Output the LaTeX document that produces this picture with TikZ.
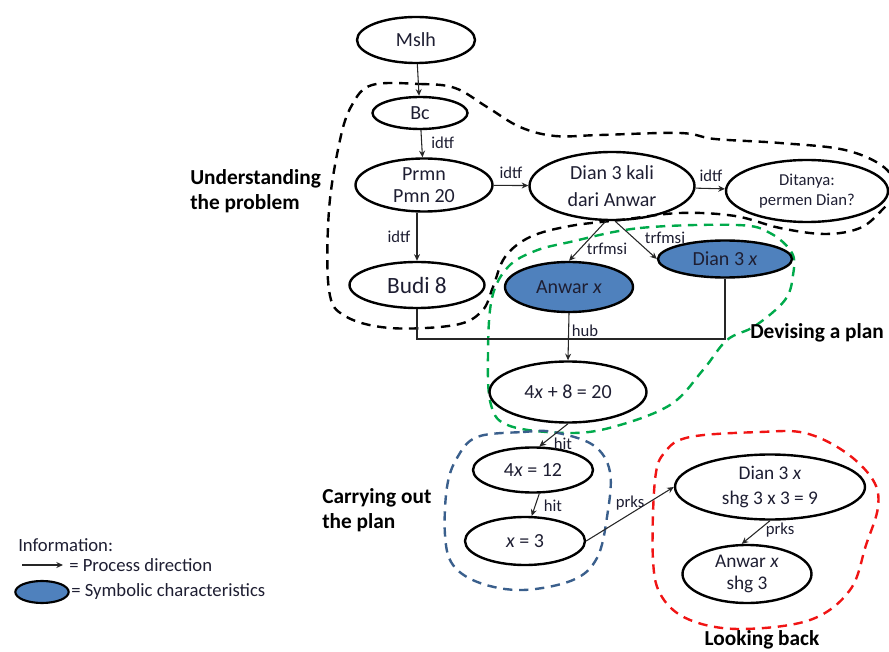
\documentclass[tikz,border=0pt]{standalone}
\usepackage{fontspec}
\setmainfont{Carlito}
\usetikzlibrary{shapes.geometric,arrows.meta}
\definecolor{nodeblue}{RGB}{79,129,189}
\definecolor{grn}{RGB}{0,170,75}
\definecolor{blu}{RGB}{58,95,140}
\definecolor{rd}{RGB}{240,20,20}
\definecolor{txt}{RGB}{30,30,50}
\begin{document}
\begin{tikzpicture}[x=0.75pt,y=-0.75pt,
 ell/.style={ellipse, draw=black, line width=1.8pt, inner sep=0pt, align=center, text=txt, font=\fontsize{15}{17}\selectfont},
 sym/.style={ell, fill=nodeblue},
 conn/.style={line width=0.8pt, draw=black!85},
 arr/.style={conn, -{Stealth[length=5pt,width=4.5pt]}},
 lbl/.style={font=\fontsize{12.5}{14}\selectfont, text=txt, inner sep=0pt},
 head/.style={font=\bfseries\fontsize{16}{19}\selectfont, align=left, inner sep=0pt, text=black},
 legtxt/.style={font=\fontsize{14}{16}\selectfont, text=txt, inner sep=0pt, anchor=west},
 region/.style={line width=1.8pt, dash pattern=on 7pt off 5pt}
]
\clip (0,0) rectangle (889,652);
\useasboundingbox (0,0) rectangle (889,652);

% regions
\draw[region, black] plot[smooth cycle, tension=0.6] coordinates {
 (372,85) (420,84) (455,88) (487,107) (520,127) (555,136) (600,135) (680,133) (715,139) (780,143) (845,150) (885,168) (895,192) (882,210) (860,228) (825,234) (780,228) (735,216) (680,213) (620,220) (570,226) (530,237) (505,257) (493,287) (482,311) (455,325) (390,328) (345,316) (329,290) (329,210) (340,140) (352,105)};
\draw[region, grn] plot[smooth cycle, tension=0.6] coordinates {
 (570,242) (640,228) (737,225) (770,233) (792,253) (793,275) (785,300) (755,326) (727,340) (703,370) (670,405) (613,427) (568,433) (510,426) (491,405) (488,353) (492,298) (508,267) (535,251)};
\draw[region, blu] plot[smooth cycle, tension=0.6] coordinates {
 (477,437) (523,432) (553,432) (593,445) (610,472) (607,517) (597,558) (573,580) (523,590) (480,583) (453,565) (445,535) (447,487) (457,458)};
\draw[region, rd] plot[smooth cycle, tension=0.6] coordinates {
 (690,437) (760,432) (805,433) (845,452) (873,480) (878,507) (866,545) (850,590) (810,620) (740,629) (690,620) (662,597) (653,560) (655,480) (665,452)};

% nodes
\node[ell, minimum width=88.5pt, minimum height=34.5pt] (mslh) at (416,40) {Mslh};
\node[ell, minimum width=71.25pt, minimum height=24pt, inner ysep=-3pt] (bc) at (420,113) {Bc};
\node[ell, minimum width=102.75pt, minimum height=39.75pt, inner ysep=-6pt] (prmn) at (424,185) {Prmn\\Pmn 20};
\node[ell, minimum width=123.75pt, minimum height=51pt, inner ysep=-4pt, font=\fontsize{15}{20}\selectfont] (dk) at (612,186) {Dian 3 kali\\dari Anwar};
\node[ell, minimum width=121.5pt, minimum height=46.5pt, inner ysep=-4pt, font=\fontsize{12.5}{15}\selectfont] (dt) at (807,191) {Ditanya:\\permen Dian?};
\node[ell, minimum width=101.25pt, minimum height=34.5pt, inner ysep=-3pt, font=\fontsize{17.5}{20}\selectfont] (budi) at (417,285) {Budi 8};
\node[sym, minimum width=96pt, minimum height=37.5pt] (anw) at (569,287) {Anwar \textit{x}};
\node[sym, minimum width=100.5pt, minimum height=27.75pt, inner ysep=-3pt] (dx) at (725,259) {Dian 3 \textit{x}};
\node[ell, minimum width=117.75pt, minimum height=45.75pt] (eq1) at (568,392) {4\textit{x} + 8 = 20};
\node[ell, minimum width=90pt, minimum height=33.75pt, inner ysep=-2pt] (eq2) at (533,470) {4\textit{x} = 12};
\node[ell, minimum width=90pt, minimum height=36pt] (eq3) at (525,541) {\textit{x} = 3};
\node[ell, minimum width=142.5pt, minimum height=48.75pt, inner ysep=-5pt, font=\fontsize{14.5}{19}\selectfont] (dsh) at (770,487) {Dian 3 \textit{x}\\shg 3 x 3 = 9};
\node[ell, minimum width=96.75pt, minimum height=43.5pt, inner ysep=-6pt, font=\fontsize{14.5}{17}\selectfont] (ash) at (747,574) {Anwar \textit{x}\\shg 3};

% connectors
\coordinate (hubrow) at (600,339);
\draw[arr] (mslh) -- (bc);
\draw[arr] (bc) -- (prmn);
\draw[arr] (prmn) -- (dk);
\draw[arr] (dk) -- (dt);
\draw[arr] (prmn.south -| budi.north) -- (budi.north);
\draw[arr] (dk.-100) -- (anw.north);
\draw[arr] (dk.-85) -- (dx.west);
\draw[conn] (budi.south) |- (hubrow) -| (dx.south);
\draw[arr] (anw.south) -- (eq1.north);
\draw[arr] (eq1.south) -- (eq2.75);
\draw[arr] (eq2.-75) -- (eq3.75);
\draw[arr] (eq3.east) -- (dsh.west);
\draw[arr] (dsh.south) -- (ash.100);

% connector labels
\node[lbl, anchor=west] (l1) at (431,143) {idtf};
\node[lbl] (l2) at (511,173) {idtf};
\node[lbl] (l3) at (711,176) {idtf};
\node[lbl] (l4) at (399,237) {idtf};
\node[lbl] (l5) at (607,249) {trfmsi};
\node[lbl] (l6) at (665,238) {trfmsi};
\node[lbl] (l7) at (585,331) {hub};
\node[lbl] (l8) at (563,444) {hit};
\node[lbl] (l9) at (553,506) {hit};
\node[lbl] (l10) at (630,503) {prks};
\node[lbl] (l11) at (780,530) {prks};

% headings
\node[head, anchor=west] (h1) at (190,191) {Understanding\\the problem};
\node[head, anchor=west] (h2) at (750,333) {Devising a plan};
\node[head, anchor=west] (h3) at (322,510) {Carrying out\\the plan};
\node[head] (h4) at (762,640) {Looking back};

% legend
\node[legtxt] (info) at (18,545) {Information:};
\coordinate (la) at (22,565);
\coordinate (lb) at (63,565);
\draw[arr] (la) -- (lb);
\node[legtxt] (lt1) at (69,565) {= Process direction};
\node[ellipse, draw=black, line width=1.6pt, fill=nodeblue, inner sep=0pt, minimum width=40pt, minimum height=16.5pt] (lell) at (42,592) {};
\node[legtxt] (lt2) at (71,592) {= Symbolic characteristics};
\end{tikzpicture}
\end{document}
